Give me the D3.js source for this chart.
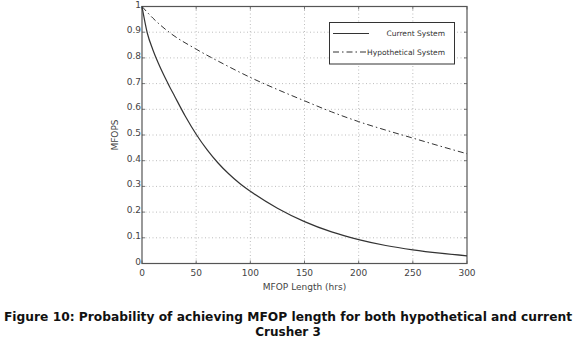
<!DOCTYPE html>
<html>
<head>
<meta charset="utf-8">
<script src="https://cdn.jsdelivr.net/npm/d3@7"></script>
<style>
  body { margin: 0; background: #fff; }
  svg text { font-family: "DejaVu Sans", Verdana, sans-serif; }
  .tick-label { font-size: 9px; fill: #444; }
  .grid line { stroke: #bdbdbd; stroke-dasharray: 1,2.5; }
</style>
</head>
<body>
<svg class="chart_svg" width="577" height="342"></svg>
<script>
// values
const hours = [0, 5, 10, 15, 20, 25, 30, 40, 50, 60, 70, 80, 90, 100, 125, 150, 175, 200, 225, 250, 275, 300];
const currentSystem = [1.0, 0.895, 0.832, 0.78, 0.734, 0.692, 0.652, 0.573, 0.503, 0.443, 0.392, 0.349, 0.312, 0.281, 0.215, 0.163, 0.123, 0.093, 0.07, 0.053, 0.04, 0.03];

const hypHours = [0, 10, 25, 50, 75, 100, 125, 150, 175, 200, 225, 250, 275, 300];
const hypotheticalSystem = [1.0, 0.955, 0.90, 0.834, 0.777, 0.724, 0.677, 0.633, 0.59, 0.552, 0.519, 0.488, 0.457, 0.427];

const xTicks = [0, 50, 100, 150, 200, 250, 300];
const yTicks = [0, 0.1, 0.2, 0.3, 0.4, 0.5, 0.6, 0.7, 0.8, 0.9, 1];
const legendLabels = ["Current System", "Hypothetical System"];

const svg = d3.select(".chart_svg");
const plot = {left: 142, right: 467, top: 6.5, bottom: 263.5};

const x = d3.scaleLinear().domain([0, 300]).range([plot.left, plot.right]);
const y = d3.scaleLinear().domain([0, 1]).range([plot.bottom, plot.top]);

// grid
const grid = svg.append("g").attr("class", "grid");
grid.selectAll(".vx").data(xTicks.slice(1, -1)).enter().append("line")
    .attr("x1", d => x(d)).attr("x2", d => x(d))
    .attr("y1", plot.top).attr("y2", plot.bottom);
grid.selectAll(".hy").data(yTicks.slice(1, -1)).enter().append("line")
    .attr("y1", d => y(d)).attr("y2", d => y(d))
    .attr("x1", plot.left).attr("x2", plot.right);

// frame
svg.append("rect")
    .attr("x", plot.left).attr("y", plot.top)
    .attr("width", plot.right - plot.left).attr("height", plot.bottom - plot.top)
    .attr("fill", "none").attr("stroke", "#555").attr("stroke-width", 1.2);

// small inner ticks
const ticks = svg.append("g").attr("stroke", "#555").attr("stroke-width", 0.8);
yTicks.forEach(v => {
    ticks.append("line").attr("x1", plot.left).attr("x2", plot.left + 3).attr("y1", y(v)).attr("y2", y(v));
    ticks.append("line").attr("x1", plot.right).attr("x2", plot.right - 3).attr("y1", y(v)).attr("y2", y(v));
});
xTicks.forEach(v => {
    ticks.append("line").attr("x1", x(v)).attr("x2", x(v)).attr("y1", plot.bottom).attr("y2", plot.bottom - 3);
    ticks.append("line").attr("x1", x(v)).attr("x2", x(v)).attr("y1", plot.top).attr("y2", plot.top + 3);
});

// tick labels
svg.selectAll(".ylab").data(yTicks).enter().append("text")
    .attr("class", "tick-label")
    .attr("x", plot.left - 1)
    .attr("y", d => y(d) + 1)
    .attr("text-anchor", "end")
    .text(d => d);

svg.selectAll(".xlab").data(xTicks).enter().append("text")
    .attr("class", "tick-label")
    .attr("x", d => x(d))
    .attr("y", plot.bottom + 12)
    .attr("text-anchor", "middle")
    .text(d => d);

// axis labels
svg.append("text")
    .attr("class", "tick-label")
    .attr("x", (plot.left + plot.right) / 2)
    .attr("y", 289.5)
    .attr("text-anchor", "middle")
    .text("MFOP Length (hrs)");

svg.append("text")
    .attr("class", "tick-label")
    .attr("transform", `translate(118, ${(plot.top + plot.bottom) / 2}) rotate(-90)`)
    .attr("text-anchor", "middle")
    .text("MFOPS");

// curves
const line = d3.line().curve(d3.curveMonotoneX);

svg.append("path")
    .attr("d", line(hours.map((h, i) => [x(h), y(currentSystem[i])])))
    .attr("fill", "none").attr("stroke", "#333").attr("stroke-width", 1.2);

svg.append("path")
    .attr("d", line(hypHours.map((h, i) => [x(h), y(hypotheticalSystem[i])])))
    .attr("fill", "none").attr("stroke", "#333").attr("stroke-width", 1)
    .attr("stroke-dasharray", "6,3,1.5,3");

// legend
const lg = svg.append("g");
lg.append("rect")
    .attr("x", 329.5).attr("y", 22.5).attr("width", 125).attr("height", 41.5)
    .attr("fill", "#fff").attr("stroke", "#333").attr("stroke-width", 1);
lg.selectAll("line").data(legendLabels).enter().append("line")
    .attr("x1", 333).attr("x2", 369)
    .attr("y1", (d, i) => 33.5 + i * 18.5).attr("y2", (d, i) => 33.5 + i * 18.5)
    .attr("stroke", "#333").attr("stroke-width", (d, i) => i ? 1 : 1.2)
    .attr("stroke-dasharray", (d, i) => i ? "6,3,1.5,3" : null);
lg.selectAll("text").data(legendLabels).enter().append("text")
    .attr("x", 445).attr("y", (d, i) => 36 + i * 18.5)
    .attr("text-anchor", "end")
    .attr("font-size", "7.5px").attr("fill", "#333")
    .text(d => d);

// caption
svg.append("text")
    .attr("x", 4).attr("y", 321)
    .attr("font-size", "12px").attr("font-weight", "bold").attr("fill", "#111")
    .attr("textLength", 568).attr("lengthAdjust", "spacingAndGlyphs")
    .text("Figure 10: Probability of achieving MFOP length for both hypothetical and current");
svg.append("text")
    .attr("x", 288).attr("y", 336)
    .attr("text-anchor", "middle")
    .attr("font-size", "12px").attr("font-weight", "bold").attr("fill", "#111")
    .text("Crusher 3");
</script>
</body>
</html>
